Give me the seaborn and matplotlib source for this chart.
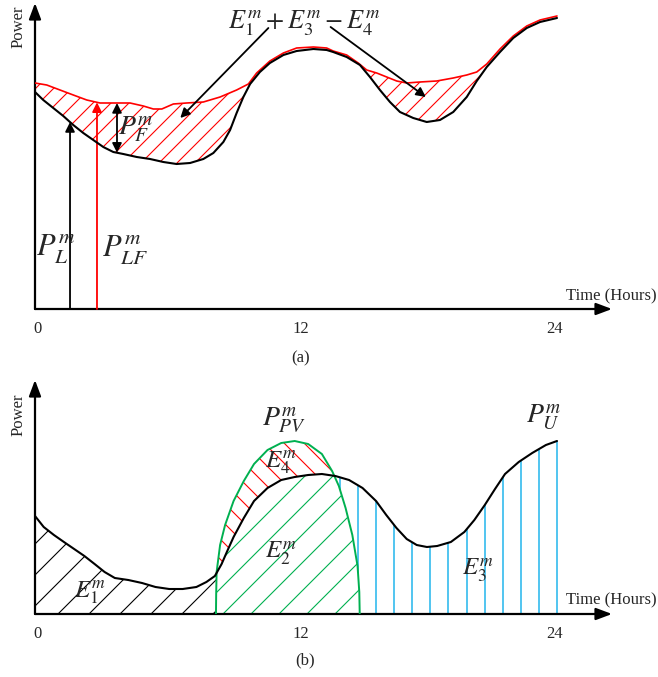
import numpy as np
import matplotlib
matplotlib.use('Agg')
import matplotlib.pyplot as plt
from matplotlib.path import Path
import seaborn as sns

# ---- panel (a): load P_L and forecast P_LF (hours, arbitrary power units)
load_a_t = [0, 0.38, 0.84, 1.30, 1.76, 2.22, 2.68, 3.14, 3.60, 4.06, 4.68, 5.29,
            5.90, 6.51, 7.13, 7.74, 8.20, 8.66, 8.97, 9.27, 9.58, 9.89, 10.34,
            10.80, 11.42, 12.03, 12.80, 13.41, 13.71, 14.33, 14.94, 15.40, 15.86,
            16.32, 16.78, 17.39, 18.01, 18.62, 19.23, 19.85, 20.31, 20.77, 21.38,
            21.99, 22.61, 23.22, 24.0]
load_a_p = [2.17, 2.09, 2.01, 1.93, 1.84, 1.76, 1.69, 1.62, 1.57, 1.55, 1.52, 1.50,
            1.47, 1.45, 1.46, 1.50, 1.56, 1.67, 1.79, 1.96, 2.12, 2.25, 2.37,
            2.46, 2.54, 2.58, 2.60, 2.59, 2.57, 2.52, 2.44, 2.32, 2.19,
            2.07, 1.97, 1.91, 1.87, 1.89, 1.97, 2.12, 2.28, 2.42, 2.57,
            2.71, 2.81, 2.87, 2.91]
fcst_a_t = [0, 0.54, 1.15, 1.76, 2.38, 2.99, 3.76, 4.37, 4.98, 5.44, 5.83, 6.36,
            6.97, 7.74, 8.51, 9.27, 9.81, 10.19, 10.80, 11.42, 12.03, 12.80,
            13.41, 13.71, 14.33, 14.86, 15.25, 15.71, 16.17, 16.63, 17.09, 17.70,
            18.47, 19.23, 19.85, 20.31, 20.77, 21.38, 21.99, 22.61, 23.22, 24.0]
fcst_a_p = [2.26, 2.24, 2.19, 2.14, 2.09, 2.06, 2.06, 2.06, 2.03, 2.00, 2.00, 2.05,
            2.06, 2.07, 2.12, 2.19, 2.25, 2.36, 2.48, 2.56, 2.61, 2.62,
            2.61, 2.58, 2.54, 2.46, 2.39, 2.36, 2.32, 2.28, 2.26, 2.27,
            2.28, 2.31, 2.34, 2.37, 2.45, 2.60, 2.73, 2.83, 2.89, 2.93]

# ---- panel (b): net load P_U and PV output P_PV
load_b_t = [0, 0.40, 0.87, 1.33, 1.80, 2.27, 2.74, 3.20, 3.67, 4.29, 4.92, 5.54,
            6.17, 6.79, 7.42, 7.88, 8.27, 8.58, 8.82, 9.13, 9.60, 10.07, 10.69,
            11.32, 11.94, 12.56, 13.19, 13.81, 14.44, 15.06, 15.68, 16.15, 16.62,
            17.09, 17.55, 18.02, 18.49, 19.12, 19.74, 20.20, 20.68, 21.15, 21.61,
            22.24, 22.86, 23.49, 24.0]
load_b_p = [0.98, 0.87, 0.79, 0.72, 0.65, 0.58, 0.50, 0.42, 0.36, 0.34, 0.31, 0.27,
            0.25, 0.25, 0.27, 0.32, 0.38, 0.50, 0.62, 0.77, 0.96, 1.13, 1.26,
            1.34, 1.37, 1.39, 1.40, 1.38, 1.34, 1.26, 1.13, 0.99, 0.86,
            0.75, 0.69, 0.67, 0.68, 0.72, 0.82, 0.94, 1.09, 1.25, 1.40,
            1.52, 1.61, 1.69, 1.73]
pv_b_t = [8.32, 8.33, 8.35, 8.51, 8.74, 9.13, 9.60, 10.07, 10.69, 11.32, 11.94,
          12.56, 13.19, 13.66, 13.97, 14.28, 14.59, 14.83, 14.91, 14.93]
pv_b_p = [0, 0.20, 0.42, 0.69, 0.89, 1.13, 1.33, 1.50, 1.64, 1.71, 1.73,
          1.70, 1.60, 1.43, 1.28, 1.06, 0.79, 0.48, 0.22, 0]

tick_pos = [0.1, 12.2, 23.9]
tick_labels = ['0', '12', '24']

RED = '#ff0000'
GREEN = '#00b050'
BLUE = '#33bbee'
PX_PER_H = 21.75


def hatch(ax, poly, gap_px, slope, color, lw=0.8, z=2):
    # draw straight hatch lines clipped to the polygon(s) of a fill_between
    paths = poly.get_paths()
    if not paths:
        return
    clip = Path.make_compound_path(*paths)
    o = ax.transData.transform((0, 0))
    sx, sy = ax.transData.transform((1, 1)) - o
    x0, x1 = ax.get_xlim()
    y0, y1 = ax.get_ylim()
    w, h = (x1 - x0) * sx, (y1 - y0) * sy
    xp = np.array([x0 * sx, x1 * sx])
    for c in np.arange(-(w + h), w + h, gap_px):
        yp = slope * xp + c
        line, = ax.plot(xp / sx, yp / sy, color=color, lw=lw, zorder=z,
                        solid_capstyle='butt')
        line.set_clip_path(clip, ax.transData)


def frame(ax, ytop):
    ax.set_xlim(0, 623 / PX_PER_H)
    ax.set_ylim(0, ytop)
    sns.despine(ax=ax, left=True, bottom=True)
    ax.set_yticks([])
    ax.set_xticks(tick_pos)
    ax.set_xticklabels(tick_labels)
    ax.tick_params(axis='x', length=0, pad=9, labelsize=12)
    head = '-|>,head_length=0.8,head_width=0.3'
    ax.annotate('', xy=(0, ytop - 0.03), xytext=(0, 0), annotation_clip=False,
                arrowprops=dict(arrowstyle=head, lw=1.6, color='black',
                                shrinkA=0, shrinkB=0, mutation_scale=12))
    ax.annotate('', xy=(577 / PX_PER_H, 0), xytext=(0, 0), annotation_clip=False,
                arrowprops=dict(arrowstyle=head, lw=1.6, color='black',
                                shrinkA=0, shrinkB=0, mutation_scale=12))


sns.set_theme(style='white')
plt.rcParams['font.family'] = ['Liberation Serif', 'DejaVu Serif']
plt.rcParams['mathtext.fontset'] = 'stix'

fig = plt.figure(figsize=(6.58, 6.77), dpi=100)
ax_a = fig.add_axes([35 / 658, 368 / 677, 623 / 658, 309 / 677])
ax_b = fig.add_axes([35 / 658, 63 / 677, 623 / 658, 237 / 677])
frame(ax_a, 3.09)
frame(ax_b, 2.37)

# ---------------- (a)
ax = ax_a
xs = np.linspace(0, 24, 1200)
la = np.interp(xs, load_a_t, load_a_p)
fa = np.interp(xs, fcst_a_t, fcst_a_p)
poly = ax.fill_between(xs, la, fa, where=(fa - la) > 0.045, interpolate=True,
                       facecolor='none', edgecolor='none', lw=0)
hatch(ax, poly, 18, 1, RED, lw=0.8)
sns.lineplot(x=fcst_a_t, y=fcst_a_p, ax=ax, color=RED, lw=1.2, estimator=None,
             sort=False, zorder=3)
sns.lineplot(x=load_a_t, y=load_a_p, ax=ax, color='black', lw=1.5, estimator=None,
             sort=False, zorder=4)

small = dict(lw=1.3, shrinkA=0, shrinkB=0, mutation_scale=14)
x_pl, x_plf, x_pf = 1.61, 2.85, 3.77
ax.annotate('', xy=(x_pl, np.interp(x_pl, load_a_t, load_a_p)), xytext=(x_pl, 0),
            arrowprops=dict(arrowstyle='-|>', color='black', **small))
ax.annotate('', xy=(x_plf, np.interp(x_plf, fcst_a_t, fcst_a_p)), xytext=(x_plf, 0),
            arrowprops=dict(arrowstyle='-|>', color=RED, **small))
ax.annotate('', xy=(x_pf, np.interp(x_pf, fcst_a_t, fcst_a_p)),
            xytext=(x_pf, np.interp(x_pf, load_a_t, load_a_p)),
            arrowprops=dict(arrowstyle='<|-|>', color='black', **small))
ax.annotate('', xy=(6.68, 1.91), xytext=(10.73, 2.81),
            arrowprops=dict(arrowstyle='-|>', color='black', **small))
ax.annotate('', xy=(17.97, 2.12), xytext=(13.59, 2.82),
            arrowprops=dict(arrowstyle='-|>', color='black', **small))

ax.text(-0.78, 2.82, 'Power', rotation=90, ha='center', va='center', fontsize=12)
ax.text(28.6, 0.13, 'Time (Hours)', ha='right', va='center', fontsize=12, clip_on=False)
ax.text(12.23, -0.49, '(a)', ha='center', va='center', fontsize=12)
ax.text(0.95, 0.60, r'$P_L^m$', ha='center', va='center', fontsize=22)
ax.text(4.14, 0.59, r'$P_{LF}^m$', ha='center', va='center', fontsize=22)
ax.text(4.64, 1.79, r'$P_F^m$', ha='center', va='center', fontsize=20)
ax.text(12.37, 2.86, r'$E_1^m + E_3^m - E_4^m$', ha='center', va='center', fontsize=19)

# ---------------- (b)
ax = ax_b
bx = 24.0 - 0.832 * np.arange(13)
ax.vlines(bx, 0, np.interp(bx, load_b_t, load_b_p), color=BLUE, lw=1.2, zorder=1)

xp = np.linspace(pv_b_t[0], pv_b_t[-1], 600)
pv = np.interp(xp, pv_b_t, pv_b_p)
lp = np.interp(xp, load_b_t, load_b_p)
ax.fill_between(xp, 0, pv, facecolor='white', edgecolor='none', zorder=1.5)
poly = ax.fill_between(xp, 0, np.minimum(pv, lp), facecolor='none', edgecolor='none', lw=0)
hatch(ax, poly, 28, 1, GREEN, lw=0.8)
poly = ax.fill_between(xp, lp, pv, where=pv > lp, interpolate=True,
                       facecolor='none', edgecolor='none', lw=0)
hatch(ax, poly, 20, -1, RED, lw=0.8)
x1 = np.linspace(0, pv_b_t[0], 300)
poly = ax.fill_between(x1, 0, np.interp(x1, load_b_t, load_b_p),
                       facecolor='none', edgecolor='none', lw=0)
hatch(ax, poly, 31, 1, 'black', lw=0.8)

sns.lineplot(x=pv_b_t, y=pv_b_p, ax=ax, color=GREEN, lw=1.4, estimator=None,
             sort=False, zorder=3)
sns.lineplot(x=load_b_t, y=load_b_p, ax=ax, color='black', lw=1.5, estimator=None,
             sort=False, zorder=4)

ax.text(-0.74, 1.99, 'Power', rotation=90, ha='center', va='center', fontsize=12)
ax.text(28.6, 0.14, 'Time (Hours)', ha='right', va='center', fontsize=12, clip_on=False)
ax.text(12.41, -0.46, '(b)', ha='center', va='center', fontsize=12)
ax.text(11.45, 1.93, r'$P_{PV}^m$', ha='center', va='center', fontsize=20)
ax.text(23.4, 1.96, r'$P_U^m$', ha='center', va='center', fontsize=20)
ax.text(11.31, 1.51, r'$E_4^m$', ha='center', va='center', fontsize=18)
ax.text(11.31, 0.61, r'$E_2^m$', ha='center', va='center', fontsize=18)
ax.text(2.53, 0.21, r'$E_1^m$', ha='center', va='center', fontsize=18)
ax.text(20.37, 0.44, r'$E_3^m$', ha='center', va='center', fontsize=18)

fig.savefig('out.png', dpi=100)
plt.close(fig)
